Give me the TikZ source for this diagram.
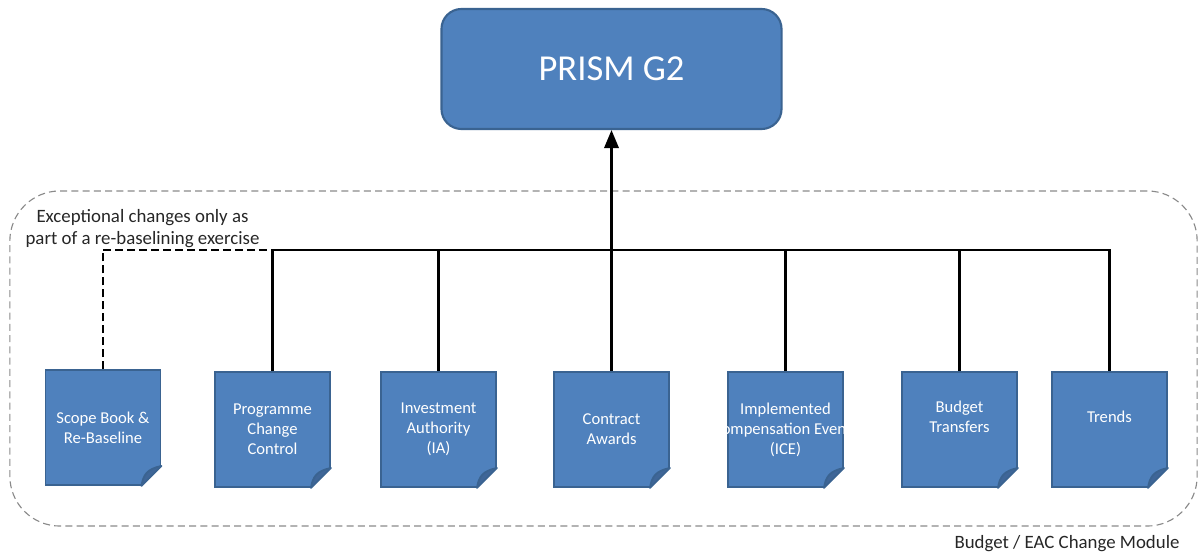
\documentclass[tikz,border=0pt]{standalone}
\usepackage{fontspec}
\setmainfont{Carlito}
\usetikzlibrary{arrows.meta}

\definecolor{boxblue}{HTML}{4F81BD}
\definecolor{boxedge}{HTML}{3A6391}
\definecolor{foldblue}{HTML}{3F6698}
\definecolor{framegray}{HTML}{8A8A8A}

\tikzset{
  prismbox/.style={rectangle, rounded corners=0.5cm, fill=boxblue, draw=boxedge, line width=1.5pt,
    minimum width=8.5cm, minimum height=3cm, text=white, font=\fontsize{26}{30}\selectfont},
  docnote/.style={rectangle, fill=boxblue, draw=boxedge, line width=1.3pt,
    minimum width=2.875cm, minimum height=2.875cm, inner sep=0pt,
    text=white, align=center, font=\fontsize{11.8}{14.2}\selectfont},
  link/.style={line width=1.6pt},
  modframe/.style={draw=framegray, line width=0.8pt, dash pattern=on 5pt off 3pt, rounded corners=1.25cm,
    minimum width=29.675cm, minimum height=8.375cm},
  plaintext/.style={text=black!85, font=\fontsize{13.4}{15.6}\selectfont}
}

\newcommand{\dogear}[1]{%
  \fill[white] ([shift={(-0.62cm,-0.12cm)}]#1.south east) -- ([shift={(0.12cm,-0.12cm)}]#1.south east)
    -- ([shift={(0.12cm,0.62cm)}]#1.south east) -- cycle;
  \filldraw[fill=foldblue, draw=boxedge, line width=1.3pt, line join=round]
    ([shift={(-0.5cm,0cm)}]#1.south east) .. controls ([shift={(-0.45cm,0.29cm)}]#1.south east)
    and ([shift={(-0.36cm,0.42cm)}]#1.south east) .. ([shift={(0cm,0.5cm)}]#1.south east) -- cycle;
}

\begin{document}
\begin{tikzpicture}[x=0.025cm, y=-0.025cm]
   \useasboundingbox (0,0) rectangle (1201,557);
   \node[modframe] (module) at (603.5,358.5) {};
   \node[plaintext] (modlabel) at (1067,544) {Budget / EAC Change Module};

   \node[prismbox] (prism) at (611.5,69) {PRISM G2};

   \node[docnote] (scope) at (103,427.5) {Scope Book \&\\Re-Baseline};
   \node[docnote] (pcc) at (272.5,429.5) {Programme\\Change\\Control};
   \node[docnote] (ia) at (438.5,429.5) {Investment\\Authority\\(IA)};
   \node[docnote] (ca) at (611.5,429.5) {Contract\\Awards};
   \node[docnote] (ice) at (785.5,429.5) {};
   \begin{scope}
      \clip (ice.north west) rectangle (ice.south east);
      \node[docnote, draw=none, fill=none] (icetext) at (ice.center)
         {Implemented\\\makebox[0pt]{Compensation Events}\\(ICE)};
   \end{scope}
   \node[docnote] (bt) at (959.5,429.5) {Budget\\Transfers\\\strut};
   \node[docnote] (trends) at (1109.5,429.5) {Trends\\\strut};
   \foreach \n in {scope,pcc,ia,ca,ice,bt,trends} {\dogear{\n}}

   \coordinate (hub) at (611.5,250);
   \draw[link, dash pattern=on 5.7pt off 2.8pt] (scope.north) |- (pcc.north |- hub);
   \draw[link] (pcc.north) |- (trends.north |- hub) -- (trends.north);
   \foreach \n in {ia,ice,bt} {\draw[link] (\n.north) -- (\n.north |- hub);}
   \draw[link, -{Triangle[length=0.45cm, width=0.36cm]}] (ca.north) -- (prism.south);

   \node[plaintext, align=center] (note) at (142.5,229) {Exceptional changes only as\\part of a re-baselining exercise};
\end{tikzpicture}
\end{document}
